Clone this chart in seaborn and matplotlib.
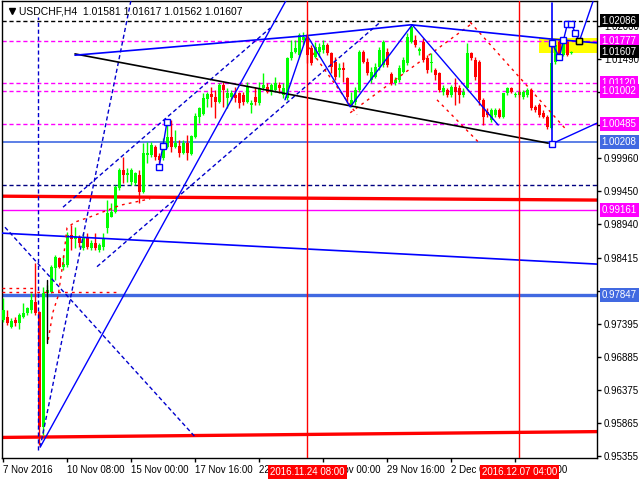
import matplotlib
matplotlib.use("Agg")
import matplotlib.pyplot as plt
import matplotlib.transforms as mtransforms
import numpy as np
import seaborn as sns

# USDCHF H4 candles, bar 0 = 7 Nov 2016 16:00
opens = [0.9746, 0.9750, 0.9735, 0.9746, 0.9741, 0.9750, 0.9756, 0.9761, 0.9773, 0.9758,
         0.9580, 0.9787, 0.9789, 0.9826, 0.9842, 0.9828, 0.9831, 0.9877, 0.9871, 0.9874,
         0.9857, 0.9873, 0.9857, 0.9865, 0.9854, 0.9858, 0.9888, 0.9905, 0.9913, 0.9950,
         0.9977, 0.9970, 0.9959, 0.9957, 0.9970, 0.9943, 1.0001, 1.0001, 1.0013, 0.9999,
         0.9996, 1.0013, 1.0029, 1.0013, 1.0015, 1.0004, 1.0019, 1.0002, 1.0029, 1.0059,
         1.0064, 1.0087, 1.0095, 1.0090, 1.0083, 1.0109, 1.0089, 1.0090, 1.0093, 1.0097,
         1.0093, 1.0083, 1.0078, 1.0090, 1.0081, 1.0104, 1.0106, 1.0098, 1.0101, 1.0109,
         1.0093, 1.0089, 1.0151, 1.0160, 1.0155, 1.0178, 1.0182, 1.0166, 1.0152, 1.0160,
         1.0163, 1.0171, 1.0158, 1.0144, 1.0132, 1.0135, 1.0120, 1.0078, 1.0083, 1.0101,
         1.0160, 1.0144, 1.0117, 1.0121, 1.0137, 1.0140, 1.0160, 1.0126, 1.0112, 1.0117,
         1.0129, 1.0143, 1.0175, 1.0178, 1.0161, 1.0175, 1.0151, 1.0143, 1.0132, 1.0127,
         1.0098, 1.0101, 1.0093, 1.0106, 1.0104, 1.0093, 1.0104, 1.0158, 1.0148, 1.0144,
         1.0086, 1.0067, 1.0055, 1.0063, 1.0070, 1.0059, 1.0097, 1.0104, 1.0093, 1.0093,
         1.0090, 1.0093, 1.0101, 1.0075, 1.0078, 1.0066, 1.0059, 1.0042, 1.0144, 1.0175,
         1.0155, 1.0175, 1.01581]
highs = [0.9780, 0.9761, 0.9749, 0.9750, 0.9756, 0.9772, 0.9766, 0.9787, 0.9834, 0.9760,
         0.9797, 0.9800, 0.9831, 0.9846, 0.9843, 0.9846, 0.9882, 0.9892, 0.9889, 0.9877,
         0.9880, 0.9880, 0.9869, 0.9880, 0.9865, 0.9880, 0.9931, 0.9926, 0.9954, 0.9981,
         0.9998, 0.9981, 0.9981, 0.9974, 0.9977, 1.0019, 1.0021, 1.0021, 1.0016, 1.0004,
         1.0027, 1.0055, 1.0055, 1.0039, 1.0024, 1.0024, 1.0032, 1.0032, 1.0066, 1.0075,
         1.0097, 1.0098, 1.0106, 1.0101, 1.0112, 1.0114, 1.0104, 1.0101, 1.0106, 1.0098,
         1.0098, 1.0114, 1.0086, 1.0106, 1.0114, 1.0127, 1.0112, 1.0112, 1.0121, 1.0114,
         1.0112, 1.0152, 1.0178, 1.0178, 1.0189, 1.0191, 1.0186, 1.0171, 1.0175, 1.0174,
         1.0178, 1.0174, 1.0160, 1.0152, 1.0143, 1.0144, 1.0121, 1.0098, 1.0106, 1.0163,
         1.0163, 1.0151, 1.0137, 1.0143, 1.0168, 1.0178, 1.0166, 1.0129, 1.0121, 1.0140,
         1.0152, 1.0189, 1.0202, 1.0186, 1.0168, 1.0182, 1.0155, 1.0158, 1.0135, 1.0129,
         1.0109, 1.0104, 1.0109, 1.0120, 1.0109, 1.0104, 1.0174, 1.0160, 1.0152, 1.0148,
         1.0089, 1.0073, 1.0073, 1.0073, 1.0073, 1.0097, 1.0106, 1.0106, 1.0098, 1.0098,
         1.0101, 1.0104, 1.0104, 1.0078, 1.0081, 1.0070, 1.0063, 1.0163, 1.0171, 1.0178,
         1.0178, 1.0178, 1.01617]
lows = [0.9743, 0.9738, 0.9733, 0.9736, 0.9732, 0.9749, 0.9753, 0.9756, 0.9753, 0.9552,
        0.9568, 0.9781, 0.9787, 0.9807, 0.9826, 0.9823, 0.9828, 0.9854, 0.9857, 0.9858,
        0.9854, 0.9855, 0.9854, 0.9854, 0.9850, 0.9854, 0.9880, 0.9905, 0.9911, 0.9947,
        0.9957, 0.9959, 0.9954, 0.9954, 0.9926, 0.9942, 0.9988, 0.9998, 0.9993, 0.9988,
        0.9993, 1.0012, 1.0005, 1.0012, 0.9998, 1.0002, 0.9993, 1.0001, 1.0027, 1.0050,
        1.0063, 1.0075, 1.0075, 1.0058, 1.0081, 1.0075, 1.0073, 1.0086, 1.0083, 1.0073,
        1.0078, 1.0081, 1.0066, 1.0078, 1.0078, 1.0101, 1.0097, 1.0093, 1.0098, 1.0097,
        1.0089, 1.0086, 1.0148, 1.0158, 1.0152, 1.0171, 1.0143, 1.0140, 1.0151, 1.0152,
        1.0158, 1.0155, 1.0127, 1.0117, 1.0121, 1.0114, 1.0081, 1.0075, 1.0078, 1.0098,
        1.0143, 1.0124, 1.0112, 1.0120, 1.0132, 1.0137, 1.0137, 1.0109, 1.0109, 1.0114,
        1.0127, 1.0140, 1.0174, 1.0168, 1.0155, 1.0144, 1.0127, 1.0129, 1.0117, 1.0098,
        1.0093, 1.0090, 1.0090, 1.0078, 1.0081, 1.0090, 1.0101, 1.0148, 1.0117, 1.0078,
        1.0047, 1.0059, 1.0052, 1.0059, 1.0058, 1.0058, 1.0093, 1.0097, 1.0090, 1.0090,
        1.0087, 1.0090, 1.0070, 1.0067, 1.0059, 1.0058, 1.0041, 1.0041, 1.0141, 1.0154,
        1.0154, 1.0154, 1.01562]
closes = [0.9761, 0.9741, 0.9744, 0.9741, 0.9753, 0.9756, 0.9764, 0.9777, 0.9756, 0.9580,
          0.9787, 0.9792, 0.9828, 0.9843, 0.9828, 0.9832, 0.9877, 0.9871, 0.9874, 0.9865,
          0.9874, 0.9858, 0.9865, 0.9857, 0.9862, 0.9873, 0.9911, 0.9913, 0.9951, 0.9977,
          0.9970, 0.9973, 0.9977, 0.9973, 0.9943, 1.0004, 1.0004, 1.0016, 0.9998, 0.9993,
          1.0013, 1.0029, 1.0013, 1.0019, 1.0004, 1.0019, 1.0004, 1.0030, 1.0061, 1.0073,
          1.0089, 1.0095, 1.0090, 1.0083, 1.0109, 1.0101, 1.0097, 1.0097, 1.0089, 1.0081,
          1.0083, 1.0106, 1.0081, 1.0083, 1.0104, 1.0109, 1.0098, 1.0109, 1.0112, 1.0104,
          1.0104, 1.0151, 1.0160, 1.0166, 1.0186, 1.0183, 1.0155, 1.0143, 1.0168, 1.0168,
          1.0171, 1.0158, 1.0137, 1.0121, 1.0135, 1.0132, 1.0090, 1.0086, 1.0101, 1.0160,
          1.0144, 1.0127, 1.0129, 1.0137, 1.0163, 1.0175, 1.0140, 1.0112, 1.0117, 1.0135,
          1.0148, 1.0183, 1.0199, 1.0171, 1.0165, 1.0148, 1.0132, 1.0144, 1.0124, 1.0101,
          1.0104, 1.0093, 1.0106, 1.0098, 1.0093, 1.0098, 1.0158, 1.0151, 1.0121, 1.0086,
          1.0059, 1.0063, 1.0070, 1.0070, 1.0059, 1.0097, 1.0104, 1.0098, 1.0095, 1.0098,
          1.0098, 1.0101, 1.0073, 1.0070, 1.0063, 1.0059, 1.0044, 1.0143, 1.0171, 1.0155,
          1.0175, 1.0155, 1.01607]

# axis ticks (labels fully covered by price tags are left blank)
y_ticks = [1.02000, 1.01490, 1.00980, 1.00470, 0.99960, 0.99450, 0.98940, 0.98415,
           0.97905, 0.97395, 0.96885, 0.96375, 0.95865, 0.95355]
y_tick_labels = ["1.02000", "1.01490", "", "", "0.99960", "0.99450", "0.98940", "0.98415",
                 "", "0.97395", "0.96885", "0.96375", "0.95865", "0.95355"]
x_tick_bars = [0, 16, 32, 48, 64, 80, 96, 112, 128]
x_tick_labels = ["7 Nov 2016", "10 Nov 08:00", "15 Nov 00:00", "17 Nov 16:00", "22 Nov 08:00",
                 "25 Nov 00:00", "29 Nov 16:00", "2 Dec 08:00", "7 Dec 00:00"]

# horizontal levels: price, colour, style, width
h_levels = [(1.02086, "black", "--", 1.0), (1.01777, "#ff00ff", "--", 1.0),
            (1.01120, "#ff00ff", "--", 1.0), (1.01002, "#ff00ff", "--", 1.0),
            (1.00485, "#ff00ff", "--", 1.0), (1.00208, "#4169e1", "-", 1.2),
            (0.99540, "#000080", "--", 1.0), (0.99161, "#ff00ff", "-", 1.0),
            (0.97847, "#4169e1", "-", 2.4)]

# right-side price tags: price, background, text colour
price_tags = [(1.02086, "black", "white"), (1.01777, "#ff00ff", "white"),
              (1.01607, "black", "white"), (1.01120, "#ff00ff", "white"),
              (1.01002, "#ff00ff", "white"), (1.00485, "#ff00ff", "white"),
              (1.00208, "#4169e1", "white"), (0.99161, "#ff00ff", "white"),
              (0.97847, "#4169e1", "white")]

# vertical time markers
time_marks = [(76, "2016.11.24 08:00"), (129, "2016.12.07 04:00")]

# drawn objects (bar index, price)
black_trend_x = [17.9, 136.2]
black_trend_y = [1.0157, 1.0019]
arc_x = [17.9, 75.4, 101.9, 136.9, 148.4]
arc_y = [1.0155, 1.0185, 1.0202, 1.0180, 1.0174]
steep_x = [9.2, 70.7]
steep_y = [0.9549, 1.0240]
zig_x = [70.4, 75.9, 86.7, 102.2, 123.7]
zig_y = [1.0086, 1.0186, 1.0075, 1.0202, 1.0047]
wave_x = [137.1, 139.0, 140.0, 141.0, 142.0, 142.9, 144.0, 147.4]
wave_y = [1.0174, 1.0152, 1.0178, 1.0203, 1.0204, 1.0190, 1.0177, 1.0238]
small_wave_x = [38.9, 39.9, 40.9]
small_wave_y = [0.9982, 1.0015, 1.0052]
red_slope_top = ([-0.3, 148.4], [0.9937, 0.9931])
red_slope_low = ([-0.3, 148.4], [0.9564, 0.9573])
blue_slope = ([-0.8, 148.4], [0.9880, 0.9832])
navy_dashed = [([9.2, 31.9], [0.9549, 1.0240]),
               ([0.4, 47.9], [0.9889, 0.9565]),
               ([23.4, 94.2], [0.9828, 1.0206]),
               ([14.9, 66.7], [0.9920, 1.0197])]
red_dashed = [([11.2, 12.4, 13.7, 14.9, 15.9, 17.9, 21.7, 29.2, 36.7],
               [0.9715, 0.9758, 0.9783, 0.9835, 0.9888, 0.9897, 0.9905, 0.9923, 0.9933]),
              ([-0.3, 7.4], [0.9795, 0.9795]),
              ([-0.3, 29.2], [0.9789, 0.9789]),
              ([76.2, 88.4], [1.0168, 1.0063]),
              ([86.7, 116.7], [1.0066, 1.0202]),
              ([116.7, 140.4], [1.0206, 1.0042]),
              ([108.4, 118.7], [1.0086, 1.0021])]

sns.set_theme(style="white")
plt.rcParams["font.family"] = ["Liberation Sans", "DejaVu Sans"]

fig = plt.figure(figsize=(6.4, 4.8), dpi=100)
ax = fig.add_axes([2 / 640, 22 / 480, 595 / 640, 457 / 480])
ax.set_xlim(-0.35, 148.4)
ax.set_ylim(0.95322, 1.02388)

o = np.array(opens)
c = np.array(closes)
idx = np.arange(len(o))
cols = np.where(c >= o, "#00ff00", "#ff0000")

# yellow zone behind candles
ax.add_patch(plt.Rectangle((133.9, 1.0158), 15, 0.0024, color="#ffff00", lw=0, zorder=1))

ax.vlines(idx, lows, highs, colors=cols, lw=1, zorder=3)
ax.bar(idx, np.maximum(np.abs(c - o), 0.00009), bottom=np.minimum(o, c), width=0.72,
       color=cols, linewidth=0, zorder=3)

for price, col, ls, lw in h_levels:
    ax.axhline(price, color=col, ls=ls, lw=lw, dashes=(3, 2) if ls == "--" else (None, None), zorder=2)

for xs, ys in [red_slope_top, red_slope_low]:
    ax.plot(xs, ys, color="#ff0000", lw=2.4, zorder=2)
ax.plot(*blue_slope, color="#0000ff", lw=1.2, zorder=4)

for xs, ys in navy_dashed:
    ax.plot(xs, ys, color="#0000cd", lw=1.0, dashes=(3, 2), zorder=4)
ax.plot([8.75, 8.75], [0.9545, 1.0214], color="#0000cd", lw=1.0, dashes=(3, 2), zorder=4)
for xs, ys in red_dashed:
    ax.plot(xs, ys, color="#ff0000", lw=1.0, dashes=(2, 3), zorder=4)

ax.plot(black_trend_x, black_trend_y, color="black", lw=1.2, zorder=4)
ax.plot(arc_x, arc_y, color="#0000ff", lw=1.2, zorder=4)
ax.plot(steep_x, steep_y, color="#0000ff", lw=1.0, zorder=4)
ax.plot(zig_x, zig_y, color="#0000ff", lw=1.0, zorder=4)
ax.plot([137.1, 137.1], [1.0236, 1.0018], color="#0000ff", lw=1.2, zorder=4)
ax.plot([137.1, 148.4], [1.0018, 1.0050], color="#0000ff", lw=1.0, zorder=4)
ax.plot(wave_x, wave_y, color="#0000ff", lw=1.0, zorder=5)
ax.plot(wave_x[:-1] + [137.1], wave_y[:-1] + [1.0018], ls="none", marker="s", ms=5,
        mfc="white", mec="#0000ff", mew=1, zorder=6)
ax.plot(small_wave_x, small_wave_y, color="#0000ff", lw=1.0, marker="s", ms=5,
        mfc="white", mec="#0000ff", mew=1, zorder=6)
ax.plot([144.0], [1.0177], ls="none", marker="s", ms=5, mfc="#ffff00", mec="black", mew=1, zorder=7)
ax.plot([11, 11], [0.9807, 0.9710], color="black", lw=1.0, zorder=4)

for bar, txt in time_marks:
    ax.axvline(bar, color="#ff0000", lw=1.0, zorder=4)
    ax.annotate(txt, xy=(bar, 0), xycoords=("data", "axes fraction"), xytext=(0, -10),
                textcoords="offset points", ha="center", va="center", fontsize=7, color="white",
                bbox=dict(boxstyle="square,pad=0.2", fc="#ff0000", ec="none"), zorder=10,
                annotation_clip=False)

# axes dressing
for s in ax.spines.values():
    s.set_color("black")
    s.set_linewidth(1.0)
ax.yaxis.tick_right()
ax.set_yticks(y_ticks)
ax.set_yticklabels(y_tick_labels)
ax.set_xticks(x_tick_bars)
ax.set_xticklabels(x_tick_labels, ha="left")
ax.tick_params(axis="y", right=True, length=3, width=1, color="black", pad=2, labelsize=7, labelcolor="black")
ax.tick_params(axis="x", bottom=True, length=3, width=1, color="black", pad=2, labelsize=7, labelcolor="black")
ax.grid(False)

ytrans = mtransforms.blended_transform_factory(ax.transAxes, ax.transData)
for price, bg, fg in price_tags:
    ax.text(1.008, price, f"{price:.5f}", transform=ytrans, ha="left", va="center", fontsize=7,
            color=fg, bbox=dict(boxstyle="square,pad=0.2", fc=bg, ec="none"), zorder=10, clip_on=False)

ax.plot(0.016, 0.978, marker="v", ms=5, color="black", transform=ax.transAxes, clip_on=False, zorder=10)
ax.text(0.029, 0.978, "USDCHF,H4  1.01581 1.01617 1.01562 1.01607", transform=ax.transAxes,
        ha="left", va="center", fontsize=7.5, color="black", zorder=10)

fig.savefig("out.png", dpi=100, facecolor="white")
